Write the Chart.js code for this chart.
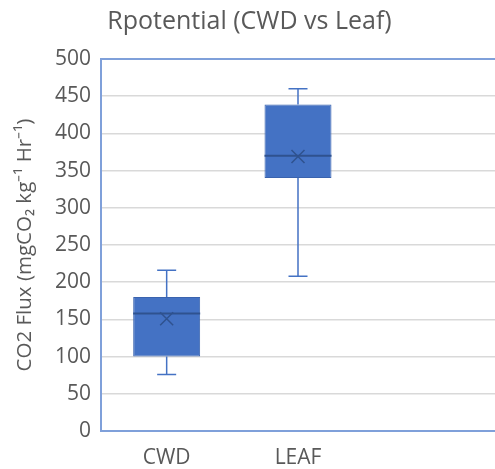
<!DOCTYPE html>
<html>
<head>
<meta charset="utf-8">
<script src="https://cdn.jsdelivr.net/npm/chart.js@4"></script>
<style>
  html, body { margin: 0; padding: 0; background: #fff; overflow: hidden; }
  #wrap { width: 495px; height: 469px; }
</style>
</head>
<body>
<div id="wrap"><canvas id="chart"></canvas></div>
<script>
// box plot stats (third slot is empty in the original)
const categories = ["CWD", "LEAF", ""];
const whiskerLow = [76, 208, null];
const q1 = [100, 340, null];
const median = [158, 370, null];
const q3 = [180, 439, null];
const whiskerHigh = [216, 460, null];
const mean = [151, 369, null];
const yTicks = [0, 50, 100, 150, 200, 250, 300, 350, 400, 450, 500];

const textColor = "#595959";
const fontFam = "'Open Sans', sans-serif";

// whiskers, median, mean marker and the plot frame (no right edge, it is cut off in the original)
const boxExtras = {
  id: "boxExtras",
  afterDatasetsDraw(chart) {
    const { ctx, scales: { x, y } } = chart;
    ctx.save();
    categories.forEach((c, i) => {
      if (q1[i] == null) return;
      const cx = x.getPixelForValue(i);
      const meta = chart.getDatasetMeta(0).data[i];
      const half = meta.width / 2;
      const cap = 9.5;
      ctx.strokeStyle = "#4472C4";
      ctx.lineWidth = 1.5;
      ctx.beginPath();
      ctx.moveTo(cx, y.getPixelForValue(q3[i]));
      ctx.lineTo(cx, y.getPixelForValue(whiskerHigh[i]));
      ctx.moveTo(cx - cap, y.getPixelForValue(whiskerHigh[i]));
      ctx.lineTo(cx + cap, y.getPixelForValue(whiskerHigh[i]));
      ctx.moveTo(cx, y.getPixelForValue(q1[i]));
      ctx.lineTo(cx, y.getPixelForValue(whiskerLow[i]));
      ctx.moveTo(cx - cap, y.getPixelForValue(whiskerLow[i]));
      ctx.lineTo(cx + cap, y.getPixelForValue(whiskerLow[i]));
      ctx.stroke();

      ctx.strokeStyle = "#2F528F";
      ctx.lineWidth = 2;
      ctx.beginPath();
      ctx.moveTo(cx - half, y.getPixelForValue(median[i]));
      ctx.lineTo(cx + half, y.getPixelForValue(median[i]));
      ctx.stroke();

      const my = y.getPixelForValue(mean[i]);
      const m = 6.5;
      ctx.lineWidth = 1.5;
      ctx.beginPath();
      ctx.moveTo(cx - m, my - m);
      ctx.lineTo(cx + m, my + m);
      ctx.moveTo(cx + m, my - m);
      ctx.lineTo(cx - m, my + m);
      ctx.stroke();
    });
    const a = chart.chartArea;
    ctx.strokeStyle = "#7FA0DA";
    ctx.lineWidth = 2;
    ctx.beginPath();
    ctx.moveTo(chart.width, a.top);
    ctx.lineTo(a.left, a.top);
    ctx.lineTo(a.left, a.bottom);
    ctx.lineTo(chart.width, a.bottom);
    ctx.stroke();
    ctx.restore();
  }
};

new Chart(document.getElementById("chart"), {
  type: "bar",
  data: {
    labels: categories,
    datasets: [{
      data: categories.map((c, i) => q1[i] == null ? null : [q1[i], q3[i]]),
      backgroundColor: "#4472C4",
      borderColor: "#3A63AE",
      borderWidth: 1,
      borderSkipped: false,
      categoryPercentage: 1,
      barPercentage: 0.51
    }]
  },
  options: {
    responsive: true,
    maintainAspectRatio: false,
    animation: false,
    layout: { padding: { left: 0, right: -4, top: 0, bottom: 0 } },
    plugins: {
      legend: { display: false },
      tooltip: { enabled: false },
      title: {
        display: true,
        text: "Rpotential (CWD vs Leaf)",
        color: textColor,
        font: { family: fontFam, size: 25, weight: "normal" },
        padding: { top: 7, bottom: 22 }
      }
    },
    scales: {
      x: {
        grid: { display: false, drawTicks: false },
        border: { display: false },
        ticks: { color: textColor, font: { family: fontFam, size: 21 }, padding: 14, maxRotation: 0 },
        afterFit: s => { s.height = 38; }
      },
      y: {
        min: 0,
        max: 500,
        afterBuildTicks: s => { s.ticks = yTicks.map(v => ({ value: v })); },
        grid: { color: "#D9D9D9", lineWidth: 1.5, drawTicks: false },
        border: { display: false },
        ticks: { color: textColor, font: { family: fontFam, size: 21 }, padding: 10 },
        title: {
          display: true,
          text: "CO2 Flux (mgCO\u2082 kg\u207B\u00B9 Hr\u207B\u00B9)",
          color: textColor,
          font: { family: fontFam, size: 20.5 },
          padding: { top: 13, bottom: 0 }
        },
        afterFit: s => { s.width = 101; }
      }
    }
  },
  plugins: [boxExtras]
});
</script>
</body>
</html>
